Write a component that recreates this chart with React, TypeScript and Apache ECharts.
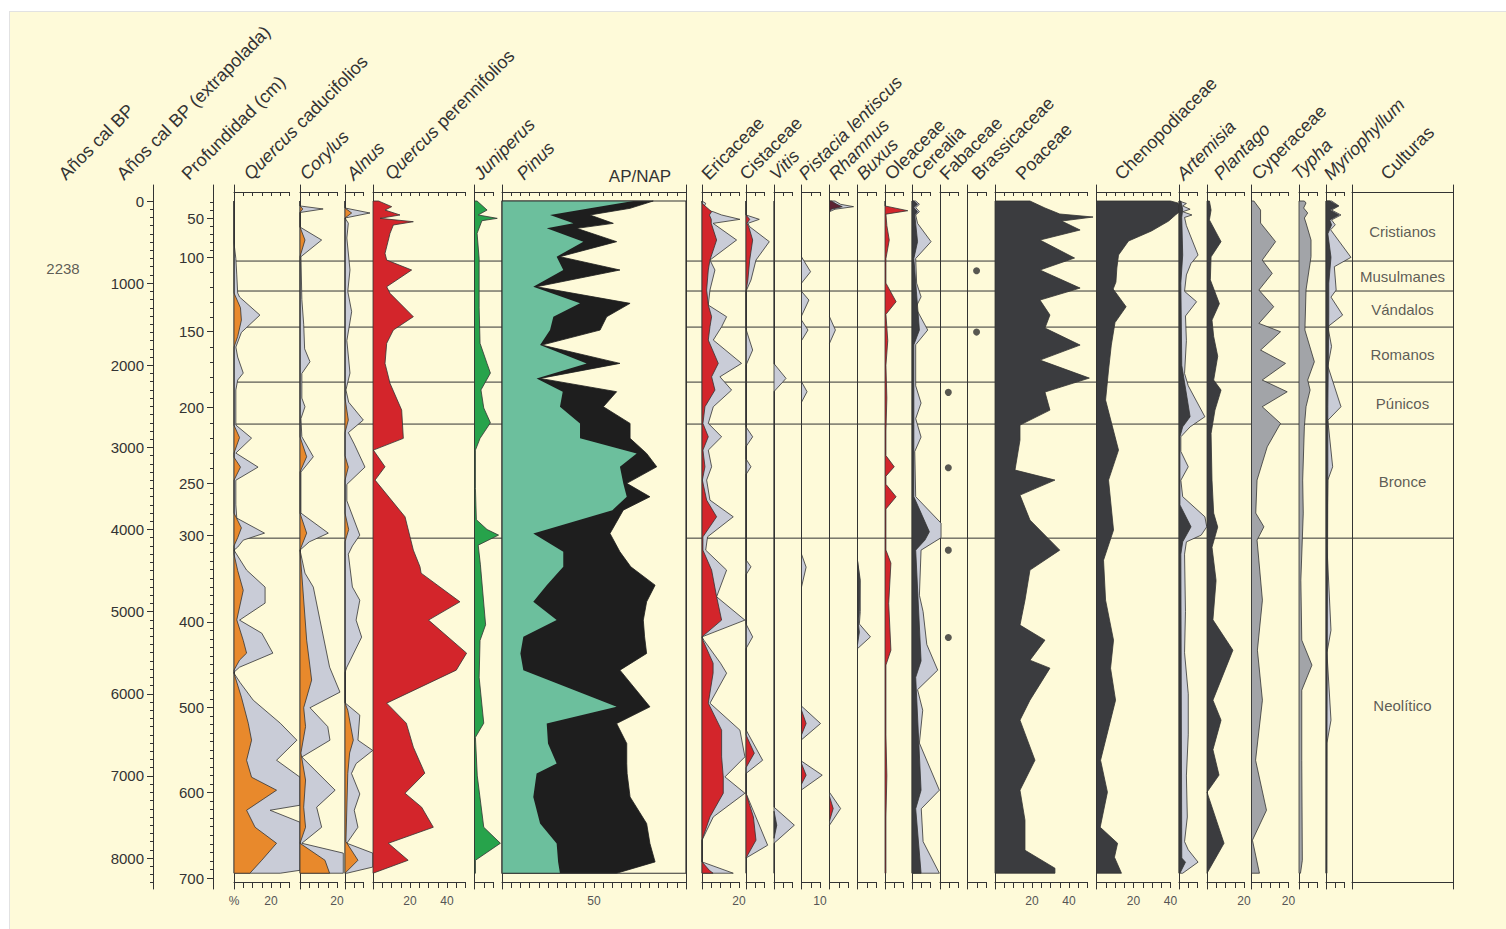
import React, { useEffect, useRef } from 'react';
import * as echarts from 'echarts';

type Pt = [number, number]; // [age (cal BP), percent]

// ---------------- axis data ----------------
const ageLabels = [0, 1000, 2000, 3000, 4000, 5000, 6000, 7000, 8000];
const ageMinorTicks = Array.from({ length: 84 }, (_, i) => i * 100);
const depthAnchorCm = [28, 50, 100, 150, 200, 250, 300, 400, 500, 600, 700];
const depthAnchorAge = [0, 211, 690, 1591, 2517, 3437, 4067, 5123, 6170, 7200, 8247];
const depthLabels = [50, 100, 150, 200, 250, 300, 400, 500, 600, 700];
const depthMinorCm = Array.from({ length: 68 }, (_, i) => 30 + i * 10);
const zoneBounds = [0, 731, 1096, 1535, 2205, 2716, 4105, 8185];
const zoneNames = ['Cristianos', 'Musulmanes', 'Vándalos', 'Romanos', 'Púnicos', 'Bronce', 'Neolítico'];
const datedAges = [816];
const datedLabels = ['2238'];
const CORE_BASE_AGE = 8185;

// ---------------- taxa data ----------------
const qCadGrey: Pt[] = [[0,0],[512,0],[700,1],[900,1.5],[1120,2],[1169,3],[1389,14],[1600,4],[1778,1],[1900,2],[2095,5],[2180,2],[2300,1],[2728,1],[2887,9.5],[3069,1],[3240,13],[3400,1],[3700,1],[3861,1.5],[4044,16.5],[4129,5],[4214,2],[4251,0],[4494,6.8],[4701,16.8],[4896,16.8],[5103,3],[5262,15],[5505,21],[5676,3],[5737,0],[5749,0],[5860,3.2],[6078,10.4],[6358,25],[6565,34],[6809,23],[7016,35.7],[7357,35.7],[7418,19.5],[7564,35.7],[8149,35.7],[8185,25]];
const qCadOrange: Pt[] = [[0,0],[1120,0],[1300,3.5],[1450,4],[1650,2],[1780,0],[2730,0],[2880,3],[3070,0],[3120,0],[3240,3.5],[3400,0],[3800,0],[3980,4],[4100,2],[4200,0],[4300,0],[4500,2],[4740,5],[5100,1.5],[5350,5],[5505,6.8],[5590,3],[5712,0],[5749,0],[6041,4],[6358,7.7],[6565,9.5],[6809,6.8],[7016,9.5],[7174,23],[7418,6.8],[7625,11.4],[7820,23],[8027,15],[8185,8.6]];
const corylusGrey: Pt[] = [[0,0],[60,0],[97,12.5],[140,0],[317,0],[475,11.7],[678,0.5],[1200,1],[1500,2],[1800,2.5],[1957,5.4],[2100,1],[2400,1],[2505,2.7],[2650,0.5],[2870,1],[3114,7.2],[3300,0.5],[3800,0.5],[4044,15.3],[4150,5],[4251,0],[4531,2.7],[4701,7.2],[5103,10.8],[5676,16],[5980,21.6],[6170,5.4],[6400,15],[6565,16.2],[6770,1],[7174,19],[7381,9],[7625,11.7],[7820,1],[7940,23.4],[8185,23.4]];
const corylusOrange: Pt[] = [[0,0],[60,0],[97,1.5],[140,0],[317,0],[475,2.7],[678,0],[2870,0],[3114,3.6],[3300,0],[3800,0],[4044,3.6],[4251,0],[5347,3.6],[5833,6.3],[6170,2],[6400,3],[6720,0.5],[7050,3],[7381,2],[7625,3],[7820,0],[8027,13.5],[8185,16]];
const alnusGrey: Pt[] = [[0,0],[85,0],[146,13.5],[207,0],[270,1.8],[450,1],[840,2.7],[1100,1.5],[1348,3.6],[1700,1],[2095,2.7],[2300,0.5],[2450,2],[2667,9.9],[2820,1.8],[2960,5],[3240,10.8],[3450,1],[3650,1],[4068,8],[4200,4],[4300,1.8],[4700,4],[4860,8],[5103,6],[5310,9],[5676,1],[5740,0],[6110,0],[6260,8],[6565,7],[6690,15],[6850,6],[6970,3.5],[7220,8],[7418,5],[7625,7],[7820,1],[7940,15],[8110,15],[8185,1]];
const alnusOrange: Pt[] = [[0,0],[85,0],[146,3.6],[207,0],[2400,0],[2667,1.8],[2820,0],[3100,0],[3240,1.8],[3400,0],[3800,0],[4000,2],[4150,0],[6110,0],[6200,1.5],[6565,4.5],[6720,2.5],[6970,1.5],[7800,0.5],[8027,7],[8185,0]];
const qPerRed: Pt[] = [[0,3],[69,10.1],[110,6.5],[170,14.6],[211,3.8],[252,21.8],[292,11],[394,9.2],[637,6.5],[719,7.4],[840,20.9],[1044,7.4],[1124,9.2],[1409,21.8],[1571,11],[1733,7.4],[1977,6.5],[2220,9.2],[2546,15.5],[2890,16.4],[3033,0.2],[3236,6.5],[3398,1.1],[3845,17.3],[4089,20],[4251,21.8],[4454,25.4],[4531,26],[4880,47],[5103,30],[5505,50.6],[5712,45],[6114,7.4],[6358,18],[6650,21.8],[6967,28],[7211,17.3],[7381,26.3],[7625,32.6],[7820,8.3],[8027,19],[8185,0]];
const juniperusGreen: Pt[] = [[0,1.4],[110,6.8],[170,2],[211,12.3],[240,4],[394,1.4],[700,2.5],[1300,2.5],[1733,3],[1980,6.8],[2095,8.6],[2300,3.5],[2520,5],[2700,8.6],[2890,3],[3033,0.5],[3500,0.5],[3880,1],[4000,6.8],[4068,13],[4190,2],[4430,3.2],[5160,6],[5350,3],[5800,2.5],[6358,5],[6530,0.5],[7000,1.5],[7625,5],[7820,14],[8027,0.5],[8185,0.5]];
const pinusAges = [0,89,170,272,333,495,678,840,1044,1246,1409,1571,1754,1977,2160,2322,2505,2708,2890,3073,3236,3438,3601,3764,4048,4272,4454,4677,4880,5103,5307,5509,5712,6159,6362,6606,6849,6971,7256,7580,7823,8047,8185];
const apTotal = [82.2,69.6,47.8,60.5,40.6,62.3,31.5,64.1,18.8,69.6,56.9,53.3,21.6,64.1,20.7,62.3,55.1,69.6,69.6,78.6,84.1,67.8,80.4,65.9,58.7,64.1,70,83.2,78.6,76.8,77.5,78.6,64.1,80.4,62.3,67.8,67.8,68,69.6,78.6,80.4,83.2,62.3];
const pinusPct = [71.4,47.8,26.1,38.8,24.3,44.2,29.7,33.3,17,42.4,27.9,26.1,20.7,46,18.8,33,31.5,42.4,42.4,73.2,64.1,65.9,67.8,60,17,33.3,33.3,24.3,17,29.7,11.6,10,11.6,62.3,24.3,25,29.7,18.8,17,20.7,29.7,30.5,31.5];
const ericGrey: Pt[] = [[0,0],[28,2],[100,0.5],[130,6],[170,10.6],[223,20.5],[272,6],[475,18.7],[719,4.3],[840,7],[1084,4.3],[1267,3.4],[1409,13.3],[1531,10.6],[1693,6.1],[1977,21.4],[2140,9.7],[2302,16],[2505,6.1],[2708,3.4],[2871,10.6],[3033,3.4],[3236,5.2],[3398,2.5],[3642,4.3],[3845,16.9],[4089,3],[4251,2],[4494,13.3],[4819,7.9],[5103,23.2],[5307,0],[5347,1],[5627,10],[5749,13.3],[6114,4.3],[6443,20.5],[6768,23.2],[7012,12.4],[7211,23.2],[7499,6.1],[7783,0],[8047,0],[8185,16.9]];
const ericRed: Pt[] = [[0,0],[28,0],[130,5.2],[170,4],[223,5],[272,5],[475,7.9],[719,4.3],[840,3.4],[1084,2.5],[1267,3.4],[1409,5.2],[1531,4.3],[1693,3.4],[1977,8.8],[2140,5.2],[2302,7],[2505,1.6],[2708,0.5],[2871,3.4],[3033,0.5],[3236,1.6],[3398,0.2],[3642,2.5],[3845,7.9],[4089,0.5],[4251,0.5],[4494,5.2],[4819,7.9],[5103,10.6],[5307,0],[5347,0.5],[5627,6],[5749,6],[6114,3.4],[6443,10.6],[6768,10.6],[7012,11.5],[7211,11.5],[7499,4.3],[7783,0],[8047,0],[8150,4],[8185,6]];
const cistGrey: Pt[] = [[0,0],[170,0],[223,7.2],[272,1],[313,2],[495,12.6],[719,5.4],[962,2.7],[1100,0],[1560,0],[1815,3.6],[2000,0],[2750,0],[2871,3.6],[2990,0],[3140,0],[3236,2.7],[3330,0],[4370,0],[4454,2.7],[4550,0],[5150,0],[5307,3.6],[5450,0],[6440,0],[6809,9],[6970,0],[7211,0],[7844,11.7],[8000,0],[8185,0]];
const cistRed: Pt[] = [[0,0],[170,0],[223,2],[272,0.5],[313,1.5],[475,3.6],[719,2],[962,1],[1100,0],[6500,0],[6723,4.5],[6900,0],[7211,0],[7500,4],[7783,5.4],[8000,0]];
const vitisGrey: Pt[] = [[0,0],[1980,0],[2160,6.5],[2320,0],[7380,0],[7600,11],[7820,0],[8185,0]];
const vitisDark: Pt[] = [[7430,0],[7600,1.5],[7760,0]];
const pistGrey: Pt[] = [[0,0],[680,0],[861,4.9],[1000,0],[1100,0],[1206,4],[1400,0],[1450,0],[1571,3.5],[1700,0],[2200,0],[2322,3],[2450,0],[4300,0],[4458,2.5],[4700,0],[6150,0],[6362,10.3],[6560,0],[6820,0],[6991,11.2],[7170,0],[8185,0]];
const pistRed: Pt[] = [[6200,0],[6362,2.5],[6500,0],[6850,0],[6991,2.5],[7100,0]];
const rhamGrey: Pt[] = [[0,3],[40,6],[69,13],[100,3],[130,0],[1409,0],[1571,3.2],[1733,0],[7200,0],[7397,6],[7600,0]];
const rhamDark: Pt[] = [[0,1],[40,4],[69,6.9],[100,1],[130,0]];
const rhamRed: Pt[] = [[7250,0],[7397,2],[7550,0]];
const buxGrey: Pt[] = [[4380,0],[4616,1.5],[5000,1.5],[5150,1],[5307,7],[5450,0]];
const buxDark: Pt[] = [[4380,0],[4616,1.2],[5000,1],[5150,0.5],[5250,1],[5400,0]];
const oleRed: Pt[] = [[0,0],[60,0],[118,12.3],[160,0.5],[300,1],[475,2.3],[700,0.5],[1000,0.5],[1226,6],[1380,0.5],[1700,1.5],[2000,0.5],[2400,1],[2800,0.5],[3100,0.5],[3236,5],[3350,0.5],[3450,0.5],[3601,6],[3750,0.5],[4250,0.5],[4409,3.2],[4900,2],[5469,3.2],[5650,0.5],[6500,0.5],[7000,1],[7500,0.5],[8185,0.5]];
const cerGrey: Pt[] = [[0,2],[40,4],[80,2],[130,4],[170,2],[272,3],[495,10.3],[700,2],[1000,2.5],[1166,4.9],[1300,2],[1571,8.5],[1750,2],[2250,2],[2460,4.9],[2650,2],[2874,4.9],[3050,1.5],[3600,2],[3922,15.7],[4100,15.7],[4251,4.9],[4800,4],[5000,6],[5400,8],[5712,13.9],[5950,3],[6200,5.8],[6600,4],[7174,14.8],[7400,5],[7800,6],[8185,14.8]];
const cerDark: Pt[] = [[0,1],[40,3],[80,1],[130,3],[170,1.5],[495,3],[700,1],[1571,4],[1750,1],[3600,1],[4028,9.4],[4129,7],[4251,2],[5600,4.9],[5800,2],[7174,4.9],[7400,2],[8185,4.9]];
const fabaceaeAges = [2330, 3248, 4251, 5314];
const fabaceaePct = 4.5;
const brassicaceaeAges = [849, 1596];
const brassicaceaePct = 4.9;
const poaceae: Pt[] = [[0,18.9],[85,27],[158,35],[195,53],[244,36],[353,46],[475,24.3],[694,43],[840,24.3],[1060,46],[1206,24.3],[1388,29.7],[1547,27],[1754,46],[1937,24.3],[2156,51],[2326,27],[2546,29.7],[2728,13.5],[2911,13.5],[3276,10.8],[3398,32.4],[3581,13.5],[3885,18.9],[4251,35],[4494,18.9],[4860,16.2],[5164,13.5],[5347,27],[5591,18.9],[5688,29.7],[6078,18.9],[6321,13.5],[6809,21.6],[7174,13.5],[7539,16.2],[7905,16.2],[8124,32.4],[8185,32.4]];
const cheno: Pt[] = [[0,40],[24,44],[110,46],[170,42.7],[244,39],[365,29.7],[487,17.3],[658,11.9],[816,11],[987,10.5],[1072,9],[1287,16],[1480,10],[1754,8],[2058,6.5],[2424,4.9],[3033,11.9],[3398,6.5],[4007,9.2],[4373,3.8],[4860,4.9],[5347,9.2],[5688,7.6],[6078,10.3],[6809,2.2],[7198,5.9],[7625,2],[7820,11.4],[7990,9.7],[8185,13.5]];
const artGrey: Pt[] = [[0,0],[30,4],[60,2],[100,6],[130,2],[170,7],[200,3],[300,4],[658,10.3],[760,6.5],[900,4],[1100,3],[1226,9.5],[1400,3.5],[1700,4],[2100,3],[2250,5],[2627,14],[2750,6],[2871,1],[3050,1],[3236,5],[3400,1],[3600,2],[3845,14],[3967,15],[4068,12],[4150,4],[4300,3],[5000,3.5],[5500,3],[6000,5],[6500,5],[7000,4],[7500,4.5],[7800,3],[7900,5],[8050,10.3],[8185,2]];
const artDark: Pt[] = [[0,1],[100,2],[200,1.5],[658,2],[1000,1],[2000,1.5],[2627,6],[2750,2],[2871,0.5],[3700,0.5],[3967,6.5],[4150,2],[4300,1],[8000,1.5],[8050,3.5],[8185,0.5]];
const plantago: Pt[] = [[0,1.3],[110,2.2],[230,1.3],[495,7.6],[680,2.2],[960,1.8],[1250,6.7],[1450,2.7],[1650,3.6],[1890,5.8],[2180,3.6],[2302,7.6],[2546,4.3],[2830,2.2],[3398,2.7],[3800,3.6],[3970,5.8],[4215,2.7],[4620,4.9],[5100,3.2],[5469,14],[6078,3.2],[6321,7.6],[6680,3.2],[6990,6.5],[7198,0],[7820,9.2],[8185,0]];
const cyperaceae: Pt[] = [[0,1.3],[110,4.9],[268,4.9],[495,13],[719,5.8],[881,11.2],[1084,4],[1287,12],[1490,4],[1592,15.7],[1815,4.9],[1977,18.4],[2180,5.8],[2323,19.3],[2505,5.8],[2708,15.7],[2993,8.5],[3398,3],[3800,2.3],[3967,6.7],[4129,3],[4860,5.9],[5469,3.2],[6078,5.9],[6809,2.2],[7418,8.1],[7783,0.5],[8185,4.3]];
const typha: Pt[] = [[0,2.9],[24,3.8],[85,2.5],[146,4.7],[207,2.9],[268,3.8],[475,6.5],[678,6.5],[1084,3.8],[1571,3.2],[1957,8.3],[2180,4.7],[2302,6],[2505,3.8],[2749,2.9],[3398,2],[3800,2.3],[4616,1],[5347,1.5],[5651,7],[5956,1.5],[6809,1.5],[8027,1.8],[8185,0.8]];
const myrioGrey: Pt[] = [[0,3],[60,7],[110,3],[170,8.1],[230,3],[290,5],[350,2.5],[686,13.5],[800,4.5],[1084,5.5],[1170,2.7],[1389,9],[1530,1],[1770,3],[2010,1],[2505,8.1],[2670,1],[3236,3.6],[3398,1],[4200,0.5],[5226,2.7],[5500,0.5],[6321,2.7],[6600,0.5],[8185,0.5]];
const myrioDark: Pt[] = [[0,2],[60,6.6],[110,2],[170,7],[230,2],[290,3],[400,1],[686,2.7],[1000,1.5],[1389,1.5],[2505,1],[3236,1],[8185,0.3]];

// ---------------- styling / layout ----------------
const F = "'Liberation Sans', Arial, Helvetica, sans-serif";
const C = {
  cream: '#fefad9', line: '#333333', text: '#333333', label: '#555555',
  orange: '#e8892c', grey: '#c9ccd7', red: '#d3252b', green: '#27a34b',
  teal: '#6cbf9d', black: '#1e1e1e', dark: '#3b3c3f', mid: '#a2a4a8', wine: '#5c2333',
};
const TOP = 185;
const HEIGHT = 704;
const AGE_MIN = -195;
const AGE_MAX = 8377;
const PX = 1.85;
const TITLE_Y = 183;
const TITLE_DX = 6;

const zip = (ages: number[], vals: number[]): Pt[] => ages.map((a, i) => [a, vals[i]]);

interface Panel {
  title: string; tx: number; left: number; max: number; scale?: number;
  labels?: number[]; pct?: boolean; box?: boolean;
  layers: [Pt[], string, string?][]; dots?: { ages: number[]; pct: number };
}

const panels: Panel[] = [
  { title: '{i|Quercus}{n| caducifolios}', tx: 247, left: 234, max: 30, labels: [0, 20], pct: true, layers: [[qCadGrey, C.grey], [qCadOrange, C.orange]] },
  { title: '{i|Corylus}', tx: 303, left: 300, max: 20, labels: [20], layers: [[corylusGrey, C.grey], [corylusOrange, C.orange]] },
  { title: '{i|Alnus}', tx: 350, left: 345, max: 10, layers: [[alnusGrey, C.grey], [alnusOrange, C.orange]] },
  { title: '{i|Quercus}{n| perennifolios}', tx: 388, left: 373, max: 50, labels: [20, 40], layers: [[qPerRed, C.red]] },
  { title: '{i|Juniperus}', tx: 477, left: 474.5, max: 10, layers: [[juniperusGreen, C.green]] },
  { title: '{i|Pinus}', tx: 520, left: 502, max: 100, scale: 1.84, labels: [50], box: true, layers: [[zip(pinusAges, apTotal), C.black, C.black], [zip(pinusAges, pinusPct), C.teal, 'none']] },
  { title: '{n|Ericaceae}', tx: 705, left: 702, max: 20, labels: [20], layers: [[ericGrey, C.grey], [ericRed, C.red]] },
  { title: '{n|Cistaceae}', tx: 743, left: 746, max: 10, layers: [[cistGrey, C.grey], [cistRed, C.red]] },
  { title: '{i|Vitis}', tx: 773, left: 774, max: 10, layers: [[vitisGrey, C.grey], [vitisDark, C.dark]] },
  { title: '{i|Pistacia lentiscus}', tx: 802, left: 801.5, max: 10, labels: [10], layers: [[pistGrey, C.grey], [pistRed, C.red]] },
  { title: '{i|Rhamnus}', tx: 832, left: 829.5, max: 10, layers: [[rhamGrey, C.grey], [rhamDark, C.wine], [rhamRed, C.red]] },
  { title: '{i|Buxus}', tx: 860, left: 857.5, max: 10, layers: [[buxGrey, C.grey], [buxDark, C.dark]] },
  { title: '{n|Oleaceae}', tx: 888, left: 885, max: 10, layers: [[oleRed, C.red]] },
  { title: '{n|Cerealia}', tx: 915, left: 912, max: 10, layers: [[cerGrey, C.grey], [cerDark, C.dark]] },
  { title: '{n|Fabaceae}', tx: 943, left: 940, max: 10, layers: [], dots: { ages: fabaceaeAges, pct: fabaceaePct } },
  { title: '{n|Brassicaceae}', tx: 975, left: 967.5, max: 10, layers: [], dots: { ages: brassicaceaeAges, pct: brassicaceaePct } },
  { title: '{n|Poaceae}', tx: 1019, left: 995, max: 50, labels: [20, 40], layers: [[poaceae, C.dark]] },
  { title: '{n|Chenopodiaceae}', tx: 1118, left: 1096.5, max: 40, labels: [20, 40], layers: [[cheno, C.dark]] },
  { title: '{i|Artemisia}', tx: 1180, left: 1179, max: 10, layers: [[artGrey, C.grey], [artDark, C.dark]] },
  { title: '{i|Plantago}', tx: 1217, left: 1207, max: 20, labels: [20], layers: [[plantago, C.dark]] },
  { title: '{n|Cyperaceae}', tx: 1255, left: 1251.5, max: 20, labels: [20], layers: [[cyperaceae, C.mid]] },
  { title: '{i|Typha}', tx: 1295, left: 1299, max: 10, layers: [[typha, C.mid]] },
  { title: '{i|Myriophyllum}', tx: 1327, left: 1326, max: 10, layers: [[myrioGrey, C.grey], [myrioDark, C.dark]] },
];

const leftHeaders = [
  { title: '{n|Años cal BP}', tx: 62 },
  { title: '{n|Años cal BP (extrapolada)}', tx: 120 },
  { title: '{n|Profundidad (cm)}', tx: 185 },
  { title: '{n|Culturas}', tx: 1384 },
];

const CULT_LEFT = 1352;
const CULT_RIGHT = 1453;

function depthToAge(d: number): number {
  for (let i = 0; i < depthAnchorCm.length - 1; i++) {
    const a = depthAnchorCm[i], b = depthAnchorCm[i + 1];
    if (d >= a && d <= b) return depthAnchorAge[i] + (d - a) / (b - a) * (depthAnchorAge[i + 1] - depthAnchorAge[i]);
  }
  return depthAnchorAge[depthAnchorAge.length - 1];
}

function titleText(text: string, x: number) {
  const base = { fontSize: 18, fontFamily: F, fill: C.text };
  return {
    type: 'text', x: x + TITLE_DX, y: TITLE_Y, rotation: Math.PI / 4, silent: true,
    style: {
      text, ...base,
      rich: { i: { ...base, fontStyle: 'italic' }, n: { ...base } },
      align: 'left', verticalAlign: 'bottom', textAlign: 'left', textVerticalAlign: 'bottom',
    },
  };
}

function buildOption() {
  const grid: any[] = [];
  const xAxis: any[] = [];
  const yAxis: any[] = [];
  const series: any[] = [];
  const graphic: any[] = [];
  const lineStyle = { color: C.line, width: 1 };

  const addGrid = (left: number, width: number) => {
    grid.push({ left, top: TOP, width, height: HEIGHT, containLabel: false, outerBoundsMode: 'none', show: false });
    return grid.length - 1;
  };
  const hiddenX = (g: number, max = 1) => {
    xAxis.push({ gridIndex: g, type: 'value', min: 0, max, show: false, axisLine: { onZero: false } });
    return xAxis.length - 1;
  };
  const ageY = (g: number, extra: any = {}) => {
    yAxis.push({
      gridIndex: g, type: 'value', inverse: true, min: AGE_MIN, max: AGE_MAX, position: 'left',
      axisLine: { show: false, onZero: false }, axisTick: { show: false }, axisLabel: { show: false }, splitLine: { show: false },
      ...extra,
    });
    return yAxis.length - 1;
  };
  const areaSeries = (xi: number, yi: number, pts: Pt[], fill: string, z: number, stroke: string = C.line) => ({
    type: 'custom', coordinateSystem: 'cartesian2d', xAxisIndex: xi, yAxisIndex: yi, z, silent: true, clip: false,
    data: pts.map((p) => [p[1], p[0]]),
    renderItem: (params: any, api: any) => {
      if (params.dataIndexInside !== 0) return null;
      const n = pts.length;
      const points: number[][] = [];
      for (let i = 0; i < n; i++) points.push(api.coord([api.value(0, i), api.value(1, i)]));
      points.push(api.coord([0, api.value(1, n - 1)]));
      points.push(api.coord([0, api.value(1, 0)]));
      return { type: 'polygon', shape: { points }, style: { fill, stroke, lineWidth: stroke === 'none' ? 0 : 0.8 } };
    },
  });

  // ----- zone lines (background) -----
  const gBg = addGrid(234, CULT_RIGHT - 234);
  const xBg = hiddenX(gBg);
  const yBg = ageY(gBg);
  series.push({
    type: 'custom', coordinateSystem: 'cartesian2d', xAxisIndex: xBg, yAxisIndex: yBg, z: 1, silent: true, clip: false,
    data: zoneBounds.slice(1, -1).map((a) => [0, a]),
    renderItem: (_p: any, api: any) => {
      const a = api.coord([0, api.value(1)]);
      const b = api.coord([1, api.value(1)]);
      return { type: 'line', shape: { x1: a[0], y1: a[1], x2: b[0], y2: b[1] }, style: { stroke: C.line, lineWidth: 1 } };
    },
  });

  // ----- dated sample column -----
  const gD = addGrid(40, 46);
  const xD = hiddenX(gD);
  const yD = ageY(gD);
  series.push({
    type: 'scatter', xAxisIndex: xD, yAxisIndex: yD, symbolSize: 1, itemStyle: { color: 'rgba(0,0,0,0)' }, silent: true,
    data: datedAges.map((a, i) => [0.5, a, datedLabels[i]]),
    label: { show: true, position: 'inside', formatter: (p: any) => p.data[2], fontSize: 15, color: C.text, fontFamily: F },
  });

  // ----- age axis -----
  const gAge = addGrid(153, 1);
  hiddenX(gAge);
  ageY(gAge, {
    axisLine: { show: true, onZero: false, lineStyle },
    axisTick: { show: true, length: 6, customValues: ageLabels, lineStyle },
    axisLabel: { show: true, customValues: ageLabels, fontSize: 15, color: C.text, fontFamily: F, margin: 9, formatter: (v: number) => String(Math.round(v)) },
  });
  ageY(gAge, {
    position: 'right', offset: -1,
    axisTick: { show: true, inside: true, length: 3, customValues: ageMinorTicks, lineStyle },
  });

  // ----- depth axis -----
  const depthLabelAges = depthLabels.map(depthToAge);
  const gDep = addGrid(213, 1);
  hiddenX(gDep);
  ageY(gDep, {
    axisLine: { show: true, onZero: false, lineStyle },
    axisTick: { show: true, length: 6, customValues: depthLabelAges, lineStyle },
    axisLabel: {
      show: true, customValues: depthLabelAges, fontSize: 15, color: C.text, fontFamily: F, margin: 9,
      formatter: (v: number) => {
        let best = 0;
        depthLabelAges.forEach((a, i) => { if (Math.abs(a - v) < Math.abs(depthLabelAges[best] - v)) best = i; });
        return String(depthLabels[best]);
      },
    },
  });
  ageY(gDep, {
    position: 'right', offset: -1,
    axisTick: { show: true, inside: true, length: 3, customValues: depthMinorCm.map(depthToAge), lineStyle },
  });

  // ----- taxa panels -----
  panels.forEach((p) => {
    const scale = p.scale ?? PX;
    const g = addGrid(p.left, p.max * scale);
    xAxis.push({
      gridIndex: g, type: 'value', position: 'top', offset: -7, min: 0, max: p.max, interval: 5,
      axisLine: { show: true, onZero: false, lineStyle }, axisTick: { show: true, inside: true, length: 4, lineStyle },
      axisLabel: { show: false }, splitLine: { show: false },
    });
    const xb = xAxis.length;
    xAxis.push({
      gridIndex: g, type: 'value', position: 'bottom', offset: -7, min: 0, max: p.max, interval: 5,
      axisLine: { show: true, onZero: false, lineStyle }, axisTick: { show: true, length: 6, lineStyle },
      axisLabel: p.labels
        ? { show: true, customValues: p.labels, fontSize: 12, color: C.label, fontFamily: F, margin: 13,
            formatter: (v: number) => (v === 0 && p.pct ? '%' : String(v)) }
        : { show: false },
      splitLine: { show: false },
    });
    const yi = ageY(g, { axisLine: { show: true, onZero: false, lineStyle } });
    if (p.box) {
      ageY(g, { position: 'right', axisLine: { show: true, onZero: false, lineStyle } });
      const boxSeries = (z: number, fill: string, stroke: string) => ({
        type: 'custom', coordinateSystem: 'cartesian2d', xAxisIndex: xb, yAxisIndex: yi, z, silent: true, clip: false,
        data: [[p.max, CORE_BASE_AGE]],
        renderItem: (_pp: any, api: any) => {
          const a = api.coord([0, 0]);
          const b = api.coord([api.value(0), api.value(1)]);
          return { type: 'rect', shape: { x: a[0], y: a[1], width: b[0] - a[0], height: b[1] - a[1] }, style: { fill, stroke, lineWidth: 1.2 } };
        },
      });
      series.push(boxSeries(2, C.cream, 'none'));
      series.push(boxSeries(30, 'none', C.line));
    }
    p.layers.forEach((l, k) => series.push(areaSeries(xb, yi, l[0], l[1], 3 + k, l[2] ?? C.line)));
    if (p.dots) {
      series.push({
        type: 'scatter', xAxisIndex: xb, yAxisIndex: yi, symbolSize: 7, z: 5, silent: true,
        itemStyle: { color: '#2e2e2e' }, data: p.dots.ages.map((a) => [p.dots!.pct, a]),
      });
    }
    graphic.push(titleText(p.title, p.tx));
  });

  // ----- culturas column -----
  const gC = addGrid(CULT_LEFT, CULT_RIGHT - CULT_LEFT);
  const xc = xAxis.length;
  ['top', 'bottom'].forEach((pos) => xAxis.push({
    gridIndex: gC, type: 'value', position: pos, offset: -7, min: 0, max: 1,
    axisLine: { show: true, onZero: false, lineStyle }, axisTick: { show: false }, axisLabel: { show: false }, splitLine: { show: false },
  }));
  const yc = ageY(gC, { axisLine: { show: true, onZero: false, lineStyle } });
  ageY(gC, { position: 'right', axisLine: { show: true, onZero: false, lineStyle } });
  series.push({
    type: 'scatter', xAxisIndex: xc, yAxisIndex: yc, symbolSize: 1, itemStyle: { color: 'rgba(0,0,0,0)' }, silent: true,
    data: zoneNames.map((n, i) => [0.5, (zoneBounds[i] + zoneBounds[i + 1]) / 2, n]),
    label: { show: true, position: 'inside', formatter: (pp: any) => pp.data[2], fontSize: 15, color: C.text, fontFamily: F },
  });

  leftHeaders.forEach((h) => graphic.push(titleText(h.title, h.tx)));
  graphic.push({
    type: 'text', x: 640, y: 176, silent: true,
    style: { text: 'AP/NAP', fontSize: 17, fontFamily: F, fill: C.text, align: 'center', verticalAlign: 'middle', textAlign: 'center', textVerticalAlign: 'middle' },
  });
  // page frame
  graphic.push({ type: 'rect', shape: { x: 0, y: 0, width: 1506, height: 11 }, style: { fill: '#ffffff' }, silent: true });
  graphic.push({ type: 'rect', shape: { x: 0, y: 0, width: 9, height: 929 }, style: { fill: '#ffffff' }, silent: true });
  graphic.push({ type: 'line', shape: { x1: 9, y1: 11.5, x2: 1506, y2: 11.5 }, style: { stroke: '#e2e2e2', lineWidth: 1 }, silent: true });
  graphic.push({ type: 'line', shape: { x1: 9.5, y1: 11, x2: 9.5, y2: 929 }, style: { stroke: '#e2e2e2', lineWidth: 1 }, silent: true });

  return {
    animation: false,
    backgroundColor: C.cream,
    grid, xAxis, yAxis, series, graphic,
  };
}

export default function App() {
  const ref = useRef<HTMLDivElement>(null);
  useEffect(() => {
    const chart = echarts.init(ref.current as HTMLDivElement, null, { renderer: 'svg' });
    chart.setOption(buildOption() as any);
    return () => chart.dispose();
  }, []);
  return <div ref={ref} style={{ position: 'fixed', left: 0, top: 0, width: 1506, height: 929 }} />;
}
